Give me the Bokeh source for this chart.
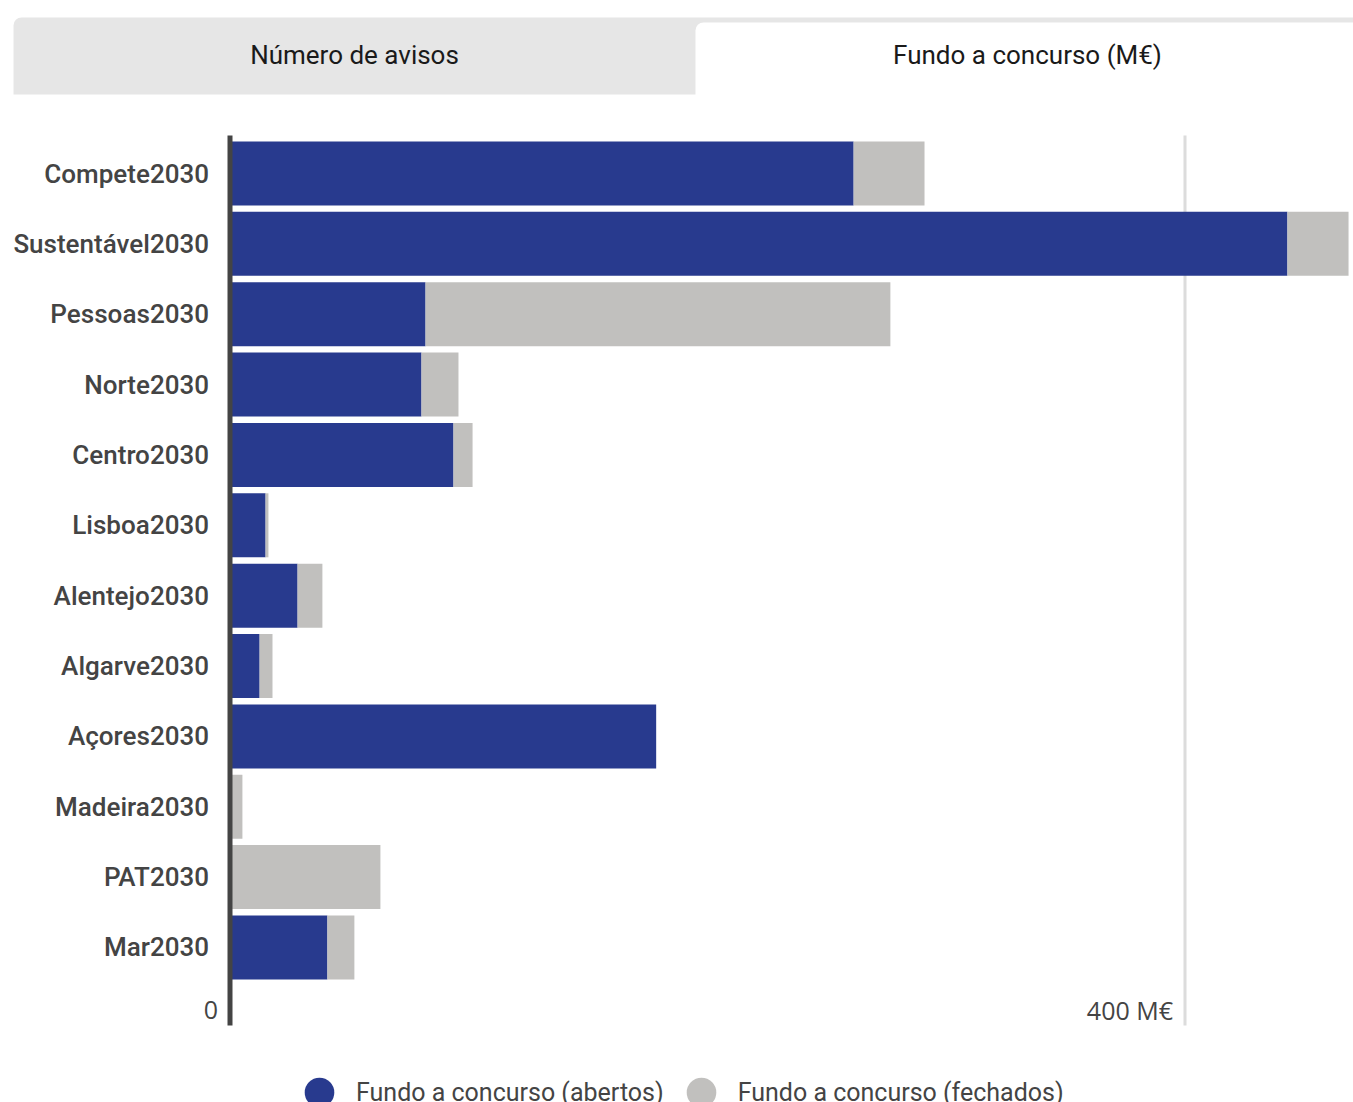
from bokeh.plotting import figure
from bokeh.models import (ColumnDataSource, Range1d, Legend, LegendItem)
from bokeh.embed import file_html
from bokeh.resources import INLINE
from bokeh.core.properties import value

# ---------------- data ----------------
categories = ["Compete2030", "Sustentável2030", "Pessoas2030", "Norte2030", "Centro2030",
              "Lisboa2030", "Alentejo2030", "Algarve2030", "Açores2030", "Madeira2030",
              "PAT2030", "Mar2030"]
abertos = [261.2, 442.9, 81.9, 80.2, 93.6, 14.9, 28.3, 12.4, 178.5, 0.0, 0.0, 40.8]
fechados = [29.7, 25.6, 194.7, 15.5, 8.0, 1.2, 10.4, 5.4, 0.0, 5.2, 63.0, 11.3]
series_labels = ["Fundo a concurso (abertos)", "Fundo a concurso (fechados)"]
tick_values = [0, 400]
tick_labels = ["0", "400 M€"]
tab_labels = ["Número de avisos", "Fundo a concurso (M€)"]

# ---------------- style / layout ----------------
BLUE = "#283a8e"
GREY = "#c1c0be"
TAB_GREY = "#e6e6e6"
TXT = "#444444"
W, H = 1353, 1102
ZERO_PX, PX_PER_UNIT = 229.5, 2.3875        # x scale: 0 -> 229.5 px, 400 -> 1184.5 px
ROW0_PX, ROW_PX = 173.0, 70.36              # first category centre and row pitch


def X(px):
    return (px - ZERO_PX) / PX_PER_UNIT


def Y(py):
    return (py - ROW0_PX) / ROW_PX


p = figure(width=W, height=H, x_range=Range1d(X(0), X(W)), y_range=Range1d(Y(H), Y(0)),
           toolbar_location=None, output_backend="svg", min_border=0,
           outline_line_color=None, border_fill_color="white")
p.axis.visible = False
p.grid.visible = False

# tabs
p.quad(left=[X(13)], right=[X(W + 20)], top=[Y(17)], bottom=[Y(94)], fill_color=TAB_GREY,
       line_color=None, border_radius=(8, 0, 0, 0))
p.quad(left=[X(695)], right=[X(W + 20)], top=[Y(22)], bottom=[Y(97)], fill_color="white",
       line_color=None, border_radius=(8, 0, 0, 0))
p.text(x=[X(354), X(1027)], y=[Y(54), Y(54)], text=tab_labels, text_align="center",
       text_baseline="middle", text_font=value("Roboto"), text_font_size="26px",
       text_color="#1a1a1a")

# grid line at 400 and axis line at 0
ax_top, ax_bottom = Y(135), Y(1025)
p.segment(x0=[tick_values[1]], x1=[tick_values[1]], y0=[ax_top], y1=[ax_bottom],
          line_color="#dcdcdc", line_width=3)

# bars
idx = list(range(len(categories)))
src = ColumnDataSource(dict(y=idx, abertos=abertos, fechados=fechados))
p.hbar_stack(["abertos", "fechados"], y="y", height=64 / ROW_PX, source=src,
             fill_color=[BLUE, GREY], line_color=None)

p.segment(x0=[0], x1=[0], y0=[ax_top], y1=[ax_bottom], line_color=TXT, line_width=5)

# category labels
p.text(x=[0] * len(categories), y=idx, text=categories, x_offset=-21,
       text_align="right", text_baseline="middle", text_font=value("Roboto Medium"),
       text_font_size="26px", text_color=TXT)

# value axis labels
p.text(x=tick_values, y=[Y(1009)] * len(tick_values), text=tick_labels, x_offset=-12,
       text_align="right", text_baseline="alphabetic", text_font=value("Open Sans"),
       text_font_size="25px", text_color=TXT)

# legend (marker renderers hold one NaN point so only the legend glyph is drawn)
nan = float("nan")
r1 = p.scatter(x=[nan], y=[nan], marker="circle", size=32, fill_color=BLUE, line_color=None)
r2 = p.scatter(x=[nan], y=[nan], marker="circle", size=32, fill_color=GREY, line_color=None)
legend = Legend(items=[LegendItem(label=series_labels[0], renderers=[r1]),
                       LegendItem(label=series_labels[1], renderers=[r2])],
                orientation="horizontal", location=(282, -30),
                glyph_width=74, glyph_height=80, label_standoff=0, spacing=0,
                padding=0, margin=0, background_fill_alpha=0, border_line_color=None,
                label_text_font="Roboto", label_text_font_size="25px",
                label_text_color=TXT)
p.add_layout(legend)

open("out.html", "w").write(file_html(p, INLINE))
